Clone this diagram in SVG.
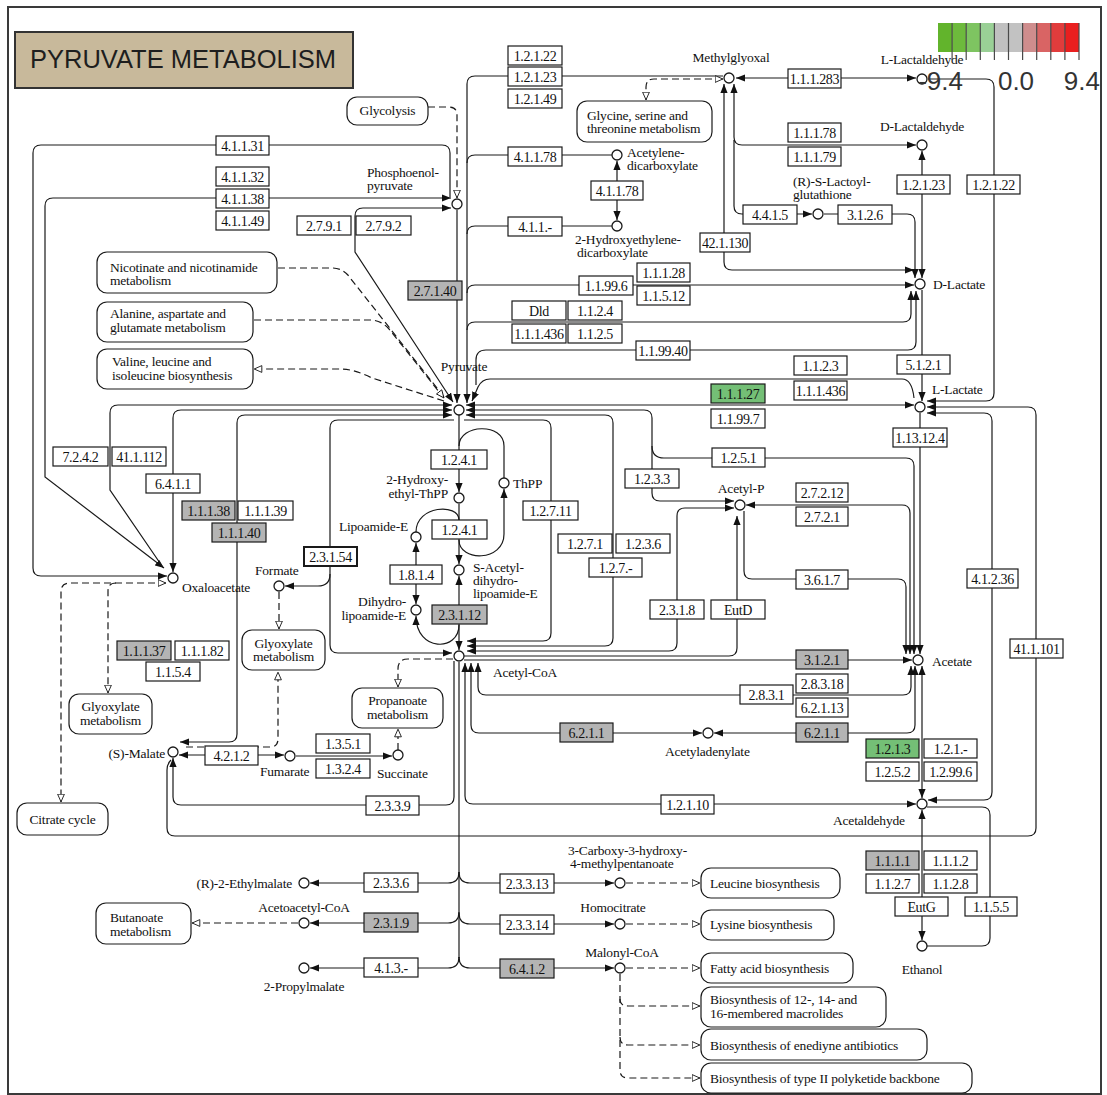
<svg xmlns="http://www.w3.org/2000/svg" width="1107" height="1095" viewBox="0 0 1107 1095">
<defs>
<style>
.ln{fill:none;stroke:#1a1a1a;stroke-width:1.2}
.ds{fill:none;stroke:#1a1a1a;stroke-width:1.2;stroke-dasharray:7 4}
text{font-family:'Liberation Serif','Times New Roman',serif;font-size:13.5px;letter-spacing:-0.2px;fill:#111}
.e rect{fill:#fff;stroke:#1a1a1a;stroke-width:1.2}
.e.g rect{fill:#b4b4b4}
.e.gr rect{fill:#74bf76}
.e.b rect{stroke-width:2}
.e text{font-size:14px;text-anchor:middle;letter-spacing:-0.35px}
.c circle{fill:#fff;stroke:#1a1a1a;stroke-width:1.3}
.m rect{fill:#fff;stroke:#1a1a1a;stroke-width:1.2}
.lg{font-family:'Liberation Sans',Arial,sans-serif;font-size:26px;fill:#333;letter-spacing:0}
</style>
<marker id="a" viewBox="0 0 10 8" refX="10" refY="4" markerWidth="9" markerHeight="7.4" markerUnits="userSpaceOnUse" orient="auto-start-reverse"><path d="M0,0 L10,4 L0,8 z" fill="#111"/></marker>
<marker id="h" viewBox="0 0 10 9" refX="9.5" refY="4.5" markerWidth="9" markerHeight="8" markerUnits="userSpaceOnUse" orient="auto-start-reverse"><path d="M0.7,0.7 L9.3,4.5 L0.7,8.3 z" fill="#fff" stroke="#111" stroke-width="1"/></marker>
</defs>
<rect x="0" y="0" width="1107" height="1095" fill="#fff"/>
<rect x="8" y="7" width="1093" height="1087" fill="none" stroke="#3a3a3a" stroke-width="2"/>

<g id="title"><rect x="15" y="32" width="338" height="56" fill="#c8b99b" stroke="#333" stroke-width="2"/><text x="30" y="68" style="font-family:'Liberation Sans',Arial,sans-serif;font-size:25.5px;letter-spacing:0;fill:#1e1e1e">PYRUVATE METABOLISM</text></g>

<g id="connectors">
<path class="ln" d="M450,197 V153 Q450,145 442,145 H41 Q33,145 33,153 V568 Q33,576 41,576 H167" marker-end="url(#a)"/>
<path class="ln" d="M164,568 L45,477 V206 Q45,198 53,198 H451" marker-start="url(#a)" marker-end="url(#a)"/>
<path class="ln" d="M453,402 L355,252 V216 Q355,208 363,208 H451" marker-start="url(#a)" marker-end="url(#a)"/>
<path class="ln" d="M457,210 V403" marker-end="url(#a)"/>
<path class="ln" d="M467,403 V84 Q467,76 475,76 H723" marker-start="url(#a)"/>
<path class="ln" d="M467,163 Q467,155 475,155 H612"/>
<path class="ln" d="M467,234 Q467,226 475,226 H612"/>
<path class="ln" d="M467,293 Q467,285 475,285 H914" marker-end="url(#a)"/>
<path class="ln" d="M467,330 Q467,322 475,322 H903 Q911,322 911,314 V291" marker-end="url(#a)"/>
<path class="ln" d="M916,291 V342 Q916,350 908,350 H486 Q476,350 476,360 V385" marker-start="url(#a)"/>
<path class="ln" d="M914,398 Q912,379 902,379 H490 Q482,379 478,387 L472,401" marker-end="url(#a)"/>
<path class="ln" d="M922,290 V401" marker-end="url(#a)"/>
<path class="ln" d="M466,405 H914" marker-start="url(#a)" marker-end="url(#a)"/>
<path class="ln" d="M466,410 H644 Q652,410 652,418 V493 Q652,501 660,501 H734" marker-start="url(#a)" marker-end="url(#a)"/>
<path class="ln" d="M652,446 Q652,458 664,458 H906 Q914,458 914,466 V654" marker-end="url(#a)"/>
<path class="ln" d="M466,415 H605 Q613,415 613,423 V638 Q613,646 605,646 H467" marker-start="url(#a)" marker-end="url(#a)"/>
<path class="ln" d="M464,420 H543 Q551,420 551,428 V633 Q551,641 543,641 H467" marker-end="url(#a)"/>
<path class="ln" d="M734,508 H685 Q677,508 677,516 V643 Q677,651 669,651 H467" marker-start="url(#a)" marker-end="url(#a)"/>
<path class="ln" d="M737,516 V648 Q737,656 729,656 H464" marker-start="url(#a)"/>
<path class="ln" d="M744,511 V571 Q744,579 752,579 H898 Q906,579 906,587 V654" marker-end="url(#a)"/>
<path class="ln" d="M746,505 H902 Q910,505 910,513 V654" marker-start="url(#a)" marker-end="url(#a)"/>
<path class="ln" d="M920,413 V654" marker-end="url(#a)"/>
<path class="ln" d="M464,660 H912" marker-end="url(#a)"/>
<path class="ln" d="M478,663 V687 Q478,695 486,695 H903 Q911,695 911,687 V666" marker-start="url(#a)" marker-end="url(#a)"/>
<path class="ln" d="M471,663 V725 Q471,733 479,733 H702" marker-start="url(#a)" marker-end="url(#a)"/>
<path class="ln" d="M714,733 H907 Q915,733 915,725 V666" marker-start="url(#a)" marker-end="url(#a)"/>
<path class="ln" d="M922,666 V798" marker-start="url(#a)" marker-end="url(#a)"/>
<path class="ln" d="M465,663 V796 Q465,804 473,804 H916" marker-start="url(#a)" marker-end="url(#a)"/>
<path class="ln" d="M454,661 V797 Q454,805 446,805 H181 Q173,805 173,797 V758" marker-end="url(#a)"/>
<path class="ln" d="M927,407 H1028 Q1036,407 1036,415 V828 Q1036,836 1028,836 H175 Q167,836 167,828 V770 Q167,764 171,760" marker-start="url(#a)"/>
<path class="ln" d="M927,413 H984 Q992,413 992,421 V792 Q992,800 984,800 H928" marker-start="url(#a)" marker-end="url(#a)"/>
<path class="ln" d="M928,79 H986 Q994,79 994,87 V393 Q994,401 986,401 H927" marker-end="url(#a)"/>
<path class="ln" d="M927,807 H982 Q990,807 990,815 V938 Q990,946 982,946 H927"/>
<path class="ln" d="M922,810 V940" marker-start="url(#a)" marker-end="url(#a)"/>
<path class="ln" d="M452,415 H245 Q237,415 237,423 V734 Q237,742 229,742 H180" marker-start="url(#a)" marker-end="url(#a)"/>
<path class="ln" d="M452,410 H181 Q173,410 173,418 V572" marker-start="url(#a)" marker-end="url(#a)"/>
<path class="ln" d="M162,566 L110,490 V413 Q110,405 118,405 H452" marker-end="url(#a)"/>
<path class="ln" d="M454,420 H338 Q330,420 330,428 V645 Q330,653 338,653 H452" marker-end="url(#a)"/>
<path class="ln" d="M330,574 Q330,586 318,586 H285" marker-end="url(#a)"/>
<path class="ln" d="M179,755 H284" marker-start="url(#a)" marker-end="url(#a)"/>
<path class="ln" d="M296,756 H392" marker-end="url(#a)"/>
<path class="ln" d="M736,78 H916" marker-start="url(#a)" marker-end="url(#a)"/>
<path class="ln" d="M724,84 V262 Q724,270 732,270 H914" marker-start="url(#a)" marker-end="url(#a)"/>
<path class="ln" d="M734,84 V137 Q734,145 742,145 H916" marker-start="url(#a)" marker-end="url(#a)"/>
<path class="ln" d="M734,140 V206 Q734,214 742,214 H812" marker-end="url(#a)"/>
<path class="ln" d="M824,214 H907 Q915,214 915,222 V278" marker-end="url(#a)"/>
<path class="ln" d="M922,151 V278" marker-start="url(#a)" marker-end="url(#a)"/>
<path class="ln" d="M617,161 V220" marker-start="url(#a)" marker-end="url(#a)"/>
<path class="ln" d="M459,415 V492" marker-end="url(#a)"/>
<path class="ln" d="M459,504 V564" marker-end="url(#a)"/>
<path class="ln" d="M459,576 V650" marker-start="url(#a)" marker-end="url(#a)"/>
<path class="ln" d="M459,446 C459,424 504,422 504,446 V478"/>
<path class="ln" d="M504,489 V534 C504,562 459,562 459,540" marker-start="url(#a)"/>
<path class="ln" d="M416,532 C416,505 459,503 459,520"/>
<path class="ln" d="M416,543 V604" marker-start="url(#a)" marker-end="url(#a)"/>
<path class="ln" d="M416,616 C416,652 459,652 459,625" marker-start="url(#a)"/>
<path class="ln" d="M459,662 V958"/>
<path class="ln" d="M459,872 Q459,883 448,883 H310" marker-end="url(#a)"/>
<path class="ln" d="M459,912 Q459,923 448,923 H310" marker-end="url(#a)"/>
<path class="ln" d="M459,957 Q459,968 448,968 H310" marker-end="url(#a)"/>
<path class="ln" d="M459,872 Q459,883 470,883 H614" marker-end="url(#a)"/>
<path class="ln" d="M459,913 Q459,924 470,924 H614" marker-end="url(#a)"/>
<path class="ln" d="M459,957 Q459,968 470,968 H614" marker-end="url(#a)"/>
<path class="ds" d="M186,747 H270 Q278,747 278,739 V672" marker-end="url(#h)"/>
<path class="ds" d="M279,592 V629" marker-end="url(#h)"/>
<path class="ds" d="M166,583 H70 Q61,583 61,592 V802" marker-start="url(#h)" marker-end="url(#h)"/>
<path class="ds" d="M116,583 Q108,583 108,591 V693" marker-end="url(#h)"/>
<path class="ds" d="M453,659 H408 Q398,659 398,669 V687" marker-end="url(#h)"/>
<path class="ds" d="M398,750 V729" marker-end="url(#h)"/>
<path class="ds" d="M428,107 H449 Q457,107 457,115 V198" marker-end="url(#h)"/>
<path class="ds" d="M723,79 H654 Q646,79 646,87 V100" marker-start="url(#h)" marker-end="url(#h)"/>
<path class="ds" d="M298,923 H192" marker-end="url(#h)"/>
<path class="ds" d="M444,401 L372,378 Q354,369 340,369 H254" marker-end="url(#h)"/>
<path class="ds" d="M278,268 H332 Q344,268 351,279 L444,397"/>
<path class="ds" d="M254,320 H370 Q381,320 389,329 L444,398" marker-end="url(#h)"/>
<path class="ds" d="M626,883 H700" marker-end="url(#h)"/>
<path class="ds" d="M626,924 H700" marker-end="url(#h)"/>
<path class="ds" d="M626,968 H700" marker-end="url(#h)"/>
<path class="ds" d="M620,974 V1070 Q620,1078 628,1078 H700" marker-end="url(#h)"/>
<path class="ds" d="M620,999 Q620,1006 628,1006 H700" marker-end="url(#h)"/>
<path class="ds" d="M620,1037 Q620,1045 628,1045 H700" marker-end="url(#h)"/>
</g>

<g id="maps">
<g id="m-glycolysis" class="m"><rect x="347" y="97" width="81" height="28" rx="10"/><text x="387.5" y="115" text-anchor="middle">Glycolysis</text></g>
<g id="m-glycine" class="m"><rect x="577" y="101" width="135" height="41" rx="10"/><text x="587" y="120">Glycine, serine and</text><text x="587" y="133">threonine metabolism</text></g>
<g id="m-nicotinate" class="m"><rect x="97" y="252" width="180" height="41" rx="10"/><text x="110" y="271.5">Nicotinate and nicotinamide</text><text x="110" y="285">metabolism</text></g>
<g id="m-alanine" class="m"><rect x="97" y="302" width="156" height="40" rx="10"/><text x="110" y="318">Alanine, aspartate and</text><text x="110" y="331.5">glutamate metabolism</text></g>
<g id="m-valine" class="m"><rect x="97" y="349" width="156" height="40" rx="10"/><text x="112" y="366">Valine, leucine and</text><text x="112" y="379.5">isoleucine biosynthesis</text></g>
<g id="m-glyoxylate-1" class="m"><rect x="69" y="694" width="83" height="40" rx="10"/><text x="110.5" y="711" text-anchor="middle">Glyoxylate</text><text x="110.5" y="724.5" text-anchor="middle">metabolism</text></g>
<g id="m-glyoxylate-2" class="m"><rect x="242" y="630" width="83" height="40" rx="10"/><text x="283.5" y="647.5" text-anchor="middle">Glyoxylate</text><text x="283.5" y="661" text-anchor="middle">metabolism</text></g>
<g id="m-citrate" class="m"><rect x="17" y="803" width="91" height="32" rx="10"/><text x="62.5" y="824" text-anchor="middle">Citrate cycle</text></g>
<g id="m-propanoate" class="m"><rect x="352" y="688" width="91" height="40" rx="10"/><text x="397.5" y="705" text-anchor="middle">Propanoate</text><text x="397.5" y="718.5" text-anchor="middle">metabolism</text></g>
<g id="m-butanoate" class="m"><rect x="96" y="903" width="95" height="41" rx="10"/><text x="110" y="922">Butanoate</text><text x="110" y="935.5">metabolism</text></g>
<g id="m-leucine" class="m"><rect x="701" y="868" width="139" height="30" rx="10"/><text x="710" y="888">Leucine biosynthesis</text></g>
<g id="m-lysine" class="m"><rect x="701" y="910" width="133" height="30" rx="10"/><text x="710" y="929">Lysine biosynthesis</text></g>
<g id="m-fatty" class="m"><rect x="701" y="953" width="152" height="30" rx="10"/><text x="710" y="973">Fatty acid biosynthesis</text></g>
<g id="m-macrolides" class="m"><rect x="701" y="987" width="185" height="40" rx="10"/><text x="710" y="1004">Biosynthesis of 12-, 14- and</text><text x="710" y="1017.5">16-membered macrolides</text></g>
<g id="m-enediyne" class="m"><rect x="701" y="1029" width="226" height="31" rx="10"/><text x="710" y="1050">Biosynthesis of enediyne antibiotics</text></g>
<g id="m-polyketide" class="m"><rect x="701" y="1063" width="271" height="30" rx="10"/><text x="710" y="1083">Biosynthesis of type II polyketide backbone</text></g>
</g>

<g id="enzymes">
<g id="e1" class="e"><rect x="508" y="46" width="54" height="19"/><text x="535" y="60.5">1.2.1.22</text></g>
<g id="e2" class="e"><rect x="508" y="67" width="54" height="19"/><text x="535" y="81.5">1.2.1.23</text></g>
<g id="e3" class="e"><rect x="508" y="89" width="54" height="19"/><text x="535" y="103.5">1.2.1.49</text></g>
<g id="e4" class="e"><rect x="216" y="136" width="53" height="19"/><text x="242.5" y="150.5">4.1.1.31</text></g>
<g id="e5" class="e"><rect x="216" y="167" width="53" height="19"/><text x="242.5" y="181.5">4.1.1.32</text></g>
<g id="e6" class="e"><rect x="216" y="189" width="53" height="19"/><text x="242.5" y="203.5">4.1.1.38</text></g>
<g id="e7" class="e"><rect x="216" y="211" width="53" height="19"/><text x="242.5" y="225.5">4.1.1.49</text></g>
<g id="e8" class="e"><rect x="297" y="216" width="54" height="19"/><text x="324" y="230.5">2.7.9.1</text></g>
<g id="e9" class="e"><rect x="356" y="216" width="55" height="19"/><text x="383.5" y="230.5">2.7.9.2</text></g>
<g id="e10" class="e"><rect x="508" y="147" width="54" height="19"/><text x="535" y="161.5">4.1.1.78</text></g>
<g id="e11" class="e"><rect x="591" y="181" width="52" height="19"/><text x="617" y="195.5">4.1.1.78</text></g>
<g id="e12" class="e"><rect x="508" y="217" width="54" height="19"/><text x="535" y="231.5">4.1.1.-</text></g>
<g id="e13" class="e g"><rect x="408" y="281" width="54" height="19"/><text x="435" y="295.5">2.7.1.40</text></g>
<g id="e14" class="e"><rect x="579" y="276" width="54" height="19"/><text x="606" y="290.5">1.1.99.6</text></g>
<g id="e15" class="e"><rect x="637" y="263" width="53" height="19"/><text x="663.5" y="277.5">1.1.1.28</text></g>
<g id="e16" class="e"><rect x="637" y="286" width="53" height="19"/><text x="663.5" y="300.5">1.1.5.12</text></g>
<g id="e17" class="e"><rect x="512" y="301" width="54" height="19"/><text x="539" y="315.5">Dld</text></g>
<g id="e18" class="e"><rect x="568" y="301" width="54" height="19"/><text x="595" y="315.5">1.1.2.4</text></g>
<g id="e19" class="e"><rect x="512" y="324" width="54" height="19"/><text x="539" y="338.5">1.1.1.436</text></g>
<g id="e20" class="e"><rect x="568" y="324" width="54" height="19"/><text x="595" y="338.5">1.1.2.5</text></g>
<g id="e21" class="e"><rect x="636" y="341" width="54" height="19"/><text x="663" y="355.5">1.1.99.40</text></g>
<g id="e22" class="e"><rect x="788" y="69" width="53" height="19"/><text x="814.5" y="83.5">1.1.1.283</text></g>
<g id="e23" class="e"><rect x="788" y="123" width="53" height="19"/><text x="814.5" y="137.5">1.1.1.78</text></g>
<g id="e24" class="e"><rect x="788" y="147" width="53" height="19"/><text x="814.5" y="161.5">1.1.1.79</text></g>
<g id="e25" class="e"><rect x="743" y="205" width="54" height="19"/><text x="770" y="219.5">4.4.1.5</text></g>
<g id="e26" class="e"><rect x="838" y="205" width="54" height="19"/><text x="865" y="219.5">3.1.2.6</text></g>
<g id="e27" class="e"><rect x="700" y="233" width="50" height="19"/><text x="725" y="247.5">42.1.130</text></g>
<g id="e28" class="e"><rect x="897" y="175" width="53" height="19"/><text x="923.5" y="189.5">1.2.1.23</text></g>
<g id="e29" class="e"><rect x="967" y="175" width="53" height="19"/><text x="993.5" y="189.5">1.2.1.22</text></g>
<g id="e30" class="e"><rect x="794" y="356" width="53" height="19"/><text x="820.5" y="370.5">1.1.2.3</text></g>
<g id="e31" class="e"><rect x="794" y="381" width="53" height="19"/><text x="820.5" y="395.5">1.1.1.436</text></g>
<g id="e32" class="e"><rect x="897" y="355" width="53" height="19"/><text x="923.5" y="369.5">5.1.2.1</text></g>
<g id="e33" class="e gr"><rect x="711" y="384" width="54" height="19"/><text x="738" y="398.5">1.1.1.27</text></g>
<g id="e34" class="e"><rect x="711" y="409" width="54" height="19"/><text x="738" y="423.5">1.1.99.7</text></g>
<g id="e35" class="e"><rect x="893" y="428" width="54" height="19"/><text x="920" y="442.5">1.13.12.4</text></g>
<g id="e36" class="e"><rect x="712" y="448" width="53" height="19"/><text x="738.5" y="462.5">1.2.5.1</text></g>
<g id="e37" class="e"><rect x="625" y="469" width="54" height="19"/><text x="652" y="483.5">1.2.3.3</text></g>
<g id="e38" class="e"><rect x="796" y="483" width="52" height="19"/><text x="822" y="497.5">2.7.2.12</text></g>
<g id="e39" class="e"><rect x="796" y="507" width="52" height="19"/><text x="822" y="521.5">2.7.2.1</text></g>
<g id="e40" class="e"><rect x="523" y="501" width="55" height="19"/><text x="550.5" y="515.5">1.2.7.11</text></g>
<g id="e41" class="e"><rect x="558" y="534" width="54" height="19"/><text x="585" y="548.5">1.2.7.1</text></g>
<g id="e42" class="e"><rect x="616" y="534" width="54" height="19"/><text x="643" y="548.5">1.2.3.6</text></g>
<g id="e43" class="e"><rect x="589" y="558" width="53" height="19"/><text x="615.5" y="572.5">1.2.7.-</text></g>
<g id="e44" class="e"><rect x="796" y="570" width="52" height="19"/><text x="822" y="584.5">3.6.1.7</text></g>
<g id="e45" class="e"><rect x="650" y="600" width="54" height="19"/><text x="677" y="614.5">2.3.1.8</text></g>
<g id="e46" class="e"><rect x="711" y="600" width="54" height="19"/><text x="738" y="614.5">EutD</text></g>
<g id="e47" class="e"><rect x="967" y="569" width="51" height="19"/><text x="992.5" y="583.5">4.1.2.36</text></g>
<g id="e48" class="e"><rect x="1010" y="639" width="53" height="19"/><text x="1036.5" y="653.5">41.1.101</text></g>
<g id="e49" class="e g"><rect x="796" y="650" width="52" height="19"/><text x="822" y="664.5">3.1.2.1</text></g>
<g id="e50" class="e"><rect x="796" y="674" width="52" height="19"/><text x="822" y="688.5">2.8.3.18</text></g>
<g id="e51" class="e"><rect x="740" y="685" width="53" height="19"/><text x="766.5" y="699.5">2.8.3.1</text></g>
<g id="e52" class="e"><rect x="796" y="698" width="52" height="19"/><text x="822" y="712.5">6.2.1.13</text></g>
<g id="e53" class="e g"><rect x="560" y="723" width="53" height="19"/><text x="586.5" y="737.5">6.2.1.1</text></g>
<g id="e54" class="e g"><rect x="796" y="723" width="52" height="19"/><text x="822" y="737.5">6.2.1.1</text></g>
<g id="e55" class="e gr"><rect x="866" y="739" width="53" height="19"/><text x="892.5" y="753.5">1.2.1.3</text></g>
<g id="e56" class="e"><rect x="924" y="739" width="53" height="19"/><text x="950.5" y="753.5">1.2.1.-</text></g>
<g id="e57" class="e"><rect x="866" y="762" width="53" height="19"/><text x="892.5" y="776.5">1.2.5.2</text></g>
<g id="e58" class="e"><rect x="924" y="762" width="53" height="19"/><text x="950.5" y="776.5">1.2.99.6</text></g>
<g id="e59" class="e"><rect x="661" y="795" width="53" height="19"/><text x="687.5" y="809.5">1.2.1.10</text></g>
<g id="e60" class="e"><rect x="366" y="796" width="53" height="19"/><text x="392.5" y="810.5">2.3.3.9</text></g>
<g id="e61" class="e g"><rect x="866" y="851" width="53" height="19"/><text x="892.5" y="865.5">1.1.1.1</text></g>
<g id="e62" class="e"><rect x="924" y="851" width="53" height="19"/><text x="950.5" y="865.5">1.1.1.2</text></g>
<g id="e63" class="e"><rect x="866" y="874" width="53" height="19"/><text x="892.5" y="888.5">1.1.2.7</text></g>
<g id="e64" class="e"><rect x="924" y="874" width="53" height="19"/><text x="950.5" y="888.5">1.1.2.8</text></g>
<g id="e65" class="e"><rect x="895" y="897" width="53" height="19"/><text x="921.5" y="911.5">EutG</text></g>
<g id="e66" class="e"><rect x="965" y="897" width="52" height="19"/><text x="991" y="911.5">1.1.5.5</text></g>
<g id="e67" class="e"><rect x="364" y="873" width="54" height="19"/><text x="391" y="887.5">2.3.3.6</text></g>
<g id="e68" class="e g"><rect x="364" y="913" width="54" height="19"/><text x="391" y="927.5">2.3.1.9</text></g>
<g id="e69" class="e"><rect x="364" y="958" width="54" height="19"/><text x="391" y="972.5">4.1.3.-</text></g>
<g id="e70" class="e"><rect x="500" y="874" width="54" height="19"/><text x="527" y="888.5">2.3.3.13</text></g>
<g id="e71" class="e"><rect x="500" y="915" width="54" height="19"/><text x="527" y="929.5">2.3.3.14</text></g>
<g id="e72" class="e g"><rect x="500" y="959" width="54" height="19"/><text x="527" y="973.5">6.4.1.2</text></g>
<g id="e73" class="e"><rect x="53" y="447" width="55" height="19"/><text x="80.5" y="461.5">7.2.4.2</text></g>
<g id="e74" class="e"><rect x="112" y="447" width="54" height="19"/><text x="139" y="461.5">41.1.112</text></g>
<g id="e75" class="e"><rect x="146" y="474" width="54" height="19"/><text x="173" y="488.5">6.4.1.1</text></g>
<g id="e76" class="e g"><rect x="182" y="501" width="53" height="19"/><text x="208.5" y="515.5">1.1.1.38</text></g>
<g id="e77" class="e"><rect x="238" y="501" width="55" height="19"/><text x="265.5" y="515.5">1.1.1.39</text></g>
<g id="e78" class="e g"><rect x="212" y="523" width="54" height="19"/><text x="239" y="537.5">1.1.1.40</text></g>
<g id="e79" class="e b"><rect x="304" y="547" width="53" height="19"/><text x="330.5" y="561.5">2.3.1.54</text></g>
<g id="e80" class="e g"><rect x="117" y="641" width="54" height="19"/><text x="144" y="655.5">1.1.1.37</text></g>
<g id="e81" class="e"><rect x="175" y="641" width="54" height="19"/><text x="202" y="655.5">1.1.1.82</text></g>
<g id="e82" class="e"><rect x="146" y="662" width="54" height="19"/><text x="173" y="676.5">1.1.5.4</text></g>
<g id="e83" class="e"><rect x="205" y="746" width="53" height="19"/><text x="231.5" y="760.5">4.2.1.2</text></g>
<g id="e84" class="e"><rect x="316" y="734" width="54" height="19"/><text x="343" y="748.5">1.3.5.1</text></g>
<g id="e85" class="e"><rect x="316" y="759" width="54" height="19"/><text x="343" y="773.5">1.3.2.4</text></g>
<g id="e86" class="e"><rect x="431" y="450" width="56" height="19"/><text x="459" y="464.5">1.2.4.1</text></g>
<g id="e87" class="e"><rect x="432" y="520" width="55" height="19"/><text x="459.5" y="534.5">1.2.4.1</text></g>
<g id="e88" class="e"><rect x="390" y="565" width="52" height="19"/><text x="416" y="579.5">1.8.1.4</text></g>
<g id="e89" class="e g"><rect x="432" y="605" width="55" height="19"/><text x="459.5" y="619.5">2.3.1.12</text></g>
</g>

<g id="compounds">
<g id="c-methylglyoxal" class="c"><circle cx="729" cy="78" r="5"/><text x="731" y="62" text-anchor="middle">Methylglyoxal</text></g>
<g id="c-l-lactaldehyde" class="c"><circle cx="922" cy="79" r="5"/><text x="922" y="64" text-anchor="middle">L-Lactaldehyde</text></g>
<g id="c-d-lactaldehyde" class="c"><circle cx="922" cy="145" r="5"/><text x="922" y="131" text-anchor="middle">D-Lactaldehyde</text></g>
<g id="c-lactoylglutathione" class="c"><circle cx="818" cy="214" r="5"/><text x="793" y="186">(R)-S-Lactoyl-</text><text x="793" y="199">glutathione</text></g>
<g id="c-d-lactate" class="c"><circle cx="920" cy="284" r="5"/><text x="933" y="289">D-Lactate</text></g>
<g id="c-acetylenedicarboxylate" class="c"><circle cx="617" cy="155" r="5"/><text x="627" y="157">Acetylene-</text><text x="627" y="170">dicarboxylate</text></g>
<g id="c-hydroxyethylenedicarboxylate" class="c"><circle cx="617" cy="226" r="5"/><text x="575" y="244">2-Hydroxyethylene-</text><text x="577" y="257">dicarboxylate</text></g>
<g id="c-pep" class="c"><circle cx="457" cy="204" r="5"/><text x="367" y="177">Phosphoenol-</text><text x="367" y="190">pyruvate</text></g>
<g id="c-pyruvate" class="c"><circle cx="459" cy="410" r="5"/><text x="464" y="371" text-anchor="middle">Pyruvate</text></g>
<g id="c-l-lactate" class="c"><circle cx="920" cy="407" r="5"/><text x="932" y="394">L-Lactate</text></g>
<g id="c-oxaloacetate" class="c"><circle cx="173" cy="578" r="5"/><text x="182" y="592">Oxaloacetate</text></g>
<g id="c-malate" class="c"><circle cx="173" cy="752" r="5"/><text x="165" y="758" text-anchor="end">(S)-Malate</text></g>
<g id="c-fumarate" class="c"><circle cx="290" cy="756" r="5"/><text x="260" y="776">Fumarate</text></g>
<g id="c-succinate" class="c"><circle cx="398" cy="755" r="5"/><text x="377" y="778">Succinate</text></g>
<g id="c-formate" class="c"><circle cx="279" cy="586" r="5"/><text x="255" y="575">Formate</text></g>
<g id="c-hydroxyethyl-thpp" class="c"><circle cx="459" cy="498" r="5"/><text x="448" y="484" text-anchor="end">2-Hydroxy-</text><text x="448" y="497.5" text-anchor="end">ethyl-ThPP</text></g>
<g id="c-thpp" class="c"><circle cx="504" cy="483" r="5"/><text x="513" y="488">ThPP</text></g>
<g id="c-lipoamide" class="c"><circle cx="416" cy="537" r="5"/><text x="408" y="531" text-anchor="end">Lipoamide-E</text></g>
<g id="c-s-acetyl" class="c"><circle cx="459" cy="570" r="5"/><text x="473" y="572">S-Acetyl-</text><text x="473" y="585">dihydro-</text><text x="473" y="598">lipoamide-E</text></g>
<g id="c-dihydrolipoamide" class="c"><circle cx="416" cy="610" r="5"/><text x="406" y="606" text-anchor="end">Dihydro-</text><text x="406" y="619.5" text-anchor="end">lipoamide-E</text></g>
<g id="c-acetyl-coa" class="c"><circle cx="459" cy="656" r="5"/><text x="493" y="677">Acetyl-CoA</text></g>
<g id="c-acetyl-p" class="c"><circle cx="740" cy="505" r="5"/><text x="741" y="493" text-anchor="middle">Acetyl-P</text></g>
<g id="c-acetate" class="c"><circle cx="918" cy="660" r="5"/><text x="932" y="666">Acetate</text></g>
<g id="c-acetyladenylate" class="c"><circle cx="708" cy="733" r="5"/><text x="665" y="756">Acetyladenylate</text></g>
<g id="c-acetaldehyde" class="c"><circle cx="922" cy="804" r="5"/><text x="833" y="825">Acetaldehyde</text></g>
<g id="c-ethanol" class="c"><circle cx="922" cy="946" r="5"/><text x="922" y="974" text-anchor="middle">Ethanol</text></g>
<g id="c-ethylmalate" class="c"><circle cx="304" cy="883" r="5"/><text x="292" y="888" text-anchor="end">(R)-2-Ethylmalate</text></g>
<g id="c-acetoacetyl-coa" class="c"><circle cx="304" cy="923" r="5"/><text x="304" y="912" text-anchor="middle">Acetoacetyl-CoA</text></g>
<g id="c-propylmalate" class="c"><circle cx="304" cy="968" r="5"/><text x="304" y="991" text-anchor="middle">2-Propylmalate</text></g>
<g id="c-carboxyhydroxy" class="c"><circle cx="620" cy="883" r="5"/><text x="568" y="855">3-Carboxy-3-hydroxy-</text><text x="570" y="868">4-methylpentanoate</text></g>
<g id="c-homocitrate" class="c"><circle cx="620" cy="924" r="5"/><text x="613" y="912" text-anchor="middle">Homocitrate</text></g>
<g id="c-malonyl-coa" class="c"><circle cx="620" cy="968" r="5"/><text x="622" y="957" text-anchor="middle">Malonyl-CoA</text></g>
</g>

<g id="legend">
<rect x="938" y="23" width="14.1" height="29" fill="#62b42c"/>
<rect x="952.1" y="23" width="14.1" height="29" fill="#6dba3c"/>
<rect x="966.2" y="23" width="14.1" height="29" fill="#7ec461"/>
<rect x="980.3" y="23" width="14.1" height="29" fill="#9ad096"/>
<rect x="994.4" y="23" width="14.1" height="29" fill="#c0c0c0"/>
<rect x="1008.5" y="23" width="14.1" height="29" fill="#c2c2c2"/>
<rect x="1022.6" y="23" width="14.1" height="29" fill="#cf8d8d"/>
<rect x="1036.7" y="23" width="14.1" height="29" fill="#d96464"/>
<rect x="1050.8" y="23" width="14.1" height="29" fill="#e13c3c"/>
<rect x="1064.9" y="23" width="14.1" height="29" fill="#e91f1f"/>
<path d="M952.1,23 V60 M966.2,23 V60 M980.3,23 V60 M994.4,23 V60 M1008.5,23 V60 M1022.6,23 V60 M1036.7,23 V60 M1050.8,23 V60 M1064.9,23 V60 M1079,23 V60" stroke="#4a4a4a" stroke-width="1.2" fill="none"/>
<text class="lg" x="963" y="90" text-anchor="end">-9.4</text>
<text class="lg" x="1016" y="90" text-anchor="middle">0.0</text>
<text class="lg" x="1100" y="90" text-anchor="end">9.4</text>
</g>
</svg>
